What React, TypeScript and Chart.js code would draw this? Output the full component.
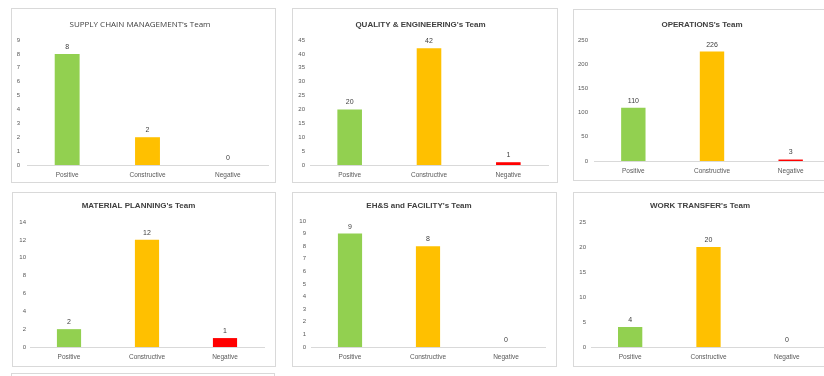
import React, { useEffect, useRef } from "react";
import { Chart, registerables } from "chart.js";

Chart.register(...registerables);

const categories = ["Positive", "Constructive", "Negative"];
const barColors = ["#92D050", "#FFC000", "#FF0000"];

const scmValues = [8, 2, 0];
const qeValues = [20, 42, 1];
const opsValues = [110, 226, 3];
const mpValues = [2, 12, 1];
const ehsValues = [9, 8, 0];
const wtValues = [4, 20, 0];

const titles = [
  "SUPPLY CHAIN MANAGEMENT's Team",
  "QUALITY & ENGINEERING's Team",
  "OPERATIONS's Team",
  "MATERIAL PLANNING's Team",
  "EH&S and FACILITY's Team",
  "WORK TRANSFER's Team",
];
const yMax = [9, 45, 250, 14, 10, 25];
const yStep = [1, 5, 50, 2, 1, 5];
const seriesList = [scmValues, qeValues, opsValues, mpValues, ehsValues, wtValues];

type Layout = {
  left: number;
  top: number;
  w: number;
  h: number;
  bold: boolean;
  titlePadTop: number;
  plotTop: number;
  xAxisH: number;
  yAxisW: number;
  yPad: number;
  padRight: number;
};

const layouts: Layout[] = [
  { left: 11, top: 8, w: 265, h: 175, bold: false, titlePadTop: 10, plotTop: 31, xAxisH: 17, yAxisW: 15, yPad: 7, padRight: 7 },
  { left: 292, top: 8, w: 266, h: 175, bold: true, titlePadTop: 10, plotTop: 31, xAxisH: 17, yAxisW: 17, yPad: 5, padRight: 9 },
  { left: 573, top: 9, w: 265, h: 172, bold: true, titlePadTop: 9, plotTop: 30, xAxisH: 19, yAxisW: 20, yPad: 6, padRight: 7 },
  { left: 12, top: 192, w: 264, h: 175, bold: true, titlePadTop: 7, plotTop: 29, xAxisH: 19, yAxisW: 17, yPad: 4, padRight: 11 },
  { left: 292, top: 192, w: 265, h: 175, bold: true, titlePadTop: 7, plotTop: 28, xAxisH: 19, yAxisW: 18, yPad: 5, padRight: 11 },
  { left: 573, top: 192, w: 265, h: 175, bold: true, titlePadTop: 7, plotTop: 29, xAxisH: 19, yAxisW: 17, yPad: 5, padRight: 11 },
];

const valueLabelPlugin = {
  id: "valueLabels",
  afterDatasetsDraw(chart: any) {
    const ctx = chart.ctx;
    const meta = chart.getDatasetMeta(0);
    const data = chart.data.datasets[0].data;
    ctx.save();
    ctx.font = "7px 'Liberation Sans', Arial, sans-serif";
    ctx.fillStyle = "#404040";
    ctx.textAlign = "center";
    ctx.textBaseline = "middle";
    meta.data.forEach((bar: any, i: number) => {
      ctx.fillText(String(data[i]), bar.x, bar.y - 7);
    });
    ctx.restore();
  },
};

function Panel({ idx }: { idx: number }) {
  const ref = useRef<HTMLCanvasElement>(null);
  const L = layouts[idx];
  useEffect(() => {
    if (!ref.current) return;
    const chart = new Chart(ref.current, {
      type: "bar",
      data: {
        labels: categories,
        datasets: [
          {
            data: seriesList[idx],
            backgroundColor: barColors,
            borderWidth: 0,
            barPercentage: 0.31,
            categoryPercentage: 1,
          },
        ],
      },
      options: {
        animation: false,
        responsive: false,
        maintainAspectRatio: false,
        layout: { padding: { left: 0, right: L.padRight, top: 0, bottom: 0 } },
        plugins: {
          legend: { display: false },
          tooltip: { enabled: false },
          title: {
            display: true,
            text: titles[idx],
            color: "#404040",
            font: {
              family: L.bold ? "'Liberation Sans', Arial, sans-serif" : "'Open Sans', sans-serif",
              size: 8,
              weight: L.bold ? "bold" : "normal",
              lineHeight: 12 / 8,
            },
            padding: { top: L.titlePadTop, bottom: L.plotTop - L.titlePadTop - 12 },
          },
        },
        scales: {
          x: {
            grid: { display: false, drawTicks: false },
            border: { display: true, color: "#D9D9D9", width: 1 },
            ticks: {
              color: "#595959",
              font: { family: "'Liberation Sans', Arial, sans-serif", size: 6.5 },
              padding: 6,
            },
            afterFit: (s: any) => {
              s.height = L.xAxisH;
            },
          },
          y: {
            min: 0,
            max: yMax[idx],
            grid: { display: false, drawTicks: false },
            border: { display: false },
            ticks: {
              stepSize: yStep[idx],
              color: "#595959",
              font: { family: "'Liberation Sans', Arial, sans-serif", size: 6 },
              padding: L.yPad,
            },
            afterFit: (s: any) => {
              s.width = L.yAxisW;
            },
          },
        },
      },
      plugins: [valueLabelPlugin],
    });
    return () => chart.destroy();
  }, [idx]);
  return (
    <div
      style={{
        position: "absolute",
        left: L.left,
        top: L.top,
        width: L.w,
        height: L.h,
        border: "1px solid #D9D9D9",
        background: "#fff",
        boxSizing: "border-box",
      }}
    >
      <canvas ref={ref} width={L.w - 2} height={L.h - 2} style={{ display: "block", width: L.w - 2, height: L.h - 2 }} />
    </div>
  );
}

export default function App() {
  return (
    <div
      style={{
        position: "fixed",
        left: 0,
        top: 0,
        width: 824,
        height: 376,
        overflow: "hidden",
        background: "#fff",
      }}
    >
      {layouts.map((_, i) => (
        <Panel key={i} idx={i} />
      ))}
      <div
        style={{
          position: "absolute",
          left: 11,
          top: 373,
          width: 264,
          height: 20,
          border: "1px solid #D9D9D9",
          boxSizing: "border-box",
        }}
      />
    </div>
  );
}
